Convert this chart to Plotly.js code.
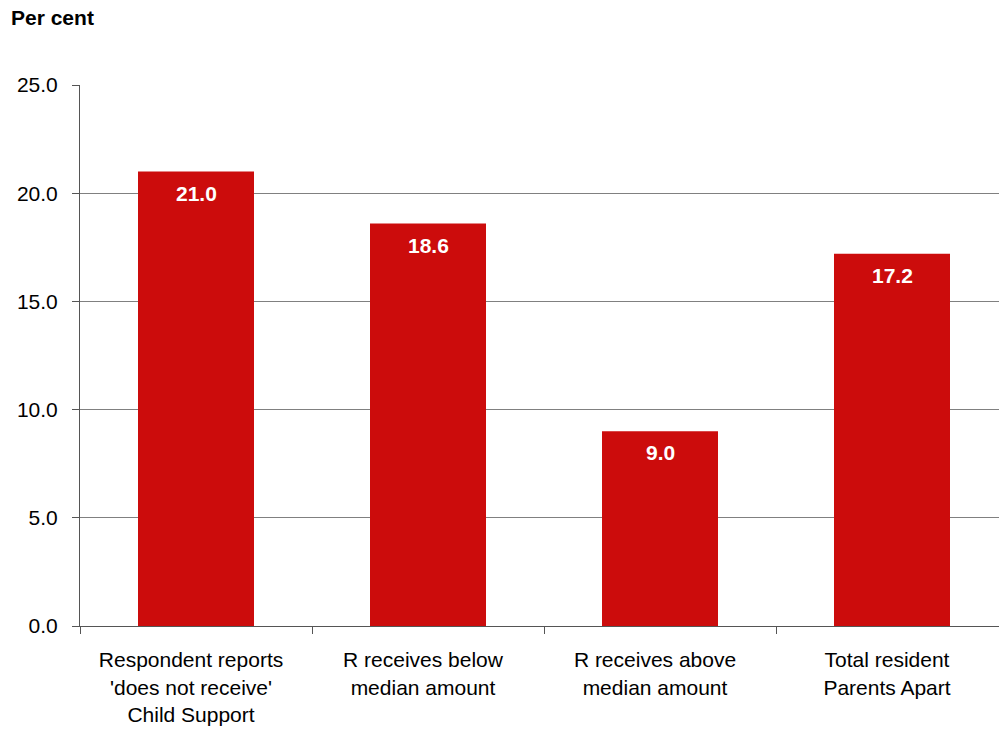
<!DOCTYPE html>
<html>
<head>
<meta charset="utf-8">
<script src="https://cdn.plot.ly/plotly-3.0.1.min.js"></script>
<style>html,body{margin:0;padding:0;background:#fff;overflow:hidden;}</style>
</head>
<body>
<div id="chart" style="width:999px;height:729px;"></div>
<script>
const categories = [
  "Respondent reports<br>'does not receive'<br>Child Support",
  "R receives below<br>median amount",
  "R receives above<br>median amount",
  "Total resident<br>Parents Apart"
];
const values = [21.0, 18.6, 9.0, 17.2];
const yTicks = [0, 5, 10, 15, 20, 25];
const yTickLabels = ["0.0", "5.0", "10.0", "15.0", "20.0", "25.0"];

const FONT = "Arial, 'Liberation Sans', sans-serif";
const FS = 21;
const barColor = "#CC0C0C";

const trace = {
  type: "bar",
  x: categories,
  y: values,
  width: 0.5,
  marker: {color: barColor, line: {width: 0}},
  hoverinfo: "none"
};

const annotations = categories.map((c, i) => ({
  x: c, y: values[i], xref: "x", yref: "y",
  text: "<b>" + values[i].toFixed(1) + "</b>",
  showarrow: false, yanchor: "top", yshift: -8,
  font: {family: FONT, size: FS, color: "#ffffff"}
}));

const layout = {
  width: 999, height: 729,
  margin: {l: 80, r: 0, t: 85, b: 103, pad: 0},
  paper_bgcolor: "#ffffff", plot_bgcolor: "#ffffff",
  showlegend: false,
  font: {family: FONT, size: FS, color: "#000000"},
  title: {
    text: "<b>Per cent</b>",
    x: 11/999, xanchor: "left", xref: "container",
    y: 1 - 18/729, yanchor: "middle", yref: "container",
    font: {family: FONT, size: FS, color: "#000000"}
  },
  xaxis: {
    type: "category",
    range: [-0.5, -0.5 + 919/232],
    showgrid: false, zeroline: false,
    showline: true, linecolor: "#555555", linewidth: 1,
    ticks: "outside", tickson: "boundaries", ticklen: 7, tickcolor: "#555555", tickwidth: 1,
    tickfont: {family: FONT, size: FS, color: "#000000"},
    ticklabelstandoff: 15,
    ticklabelshift: -5,
    fixedrange: true
  },
  yaxis: {
    range: [0, 25],
    tickvals: yTicks, ticktext: yTickLabels,
    showgrid: true, gridcolor: "#808080", gridwidth: 1,
    zeroline: false,
    showline: true, linecolor: "#555555", linewidth: 1,
    ticks: "outside", ticklen: 7, tickcolor: "#555555", tickwidth: 1,
    tickfont: {family: FONT, size: FS, color: "#000000"},
    ticklabelstandoff: 10,
    fixedrange: true
  },
  annotations: annotations,
  bargap: 0.5
};

Plotly.newPlot("chart", [trace], layout, {displayModeBar: false, staticPlot: true});
</script>
</body>
</html>
